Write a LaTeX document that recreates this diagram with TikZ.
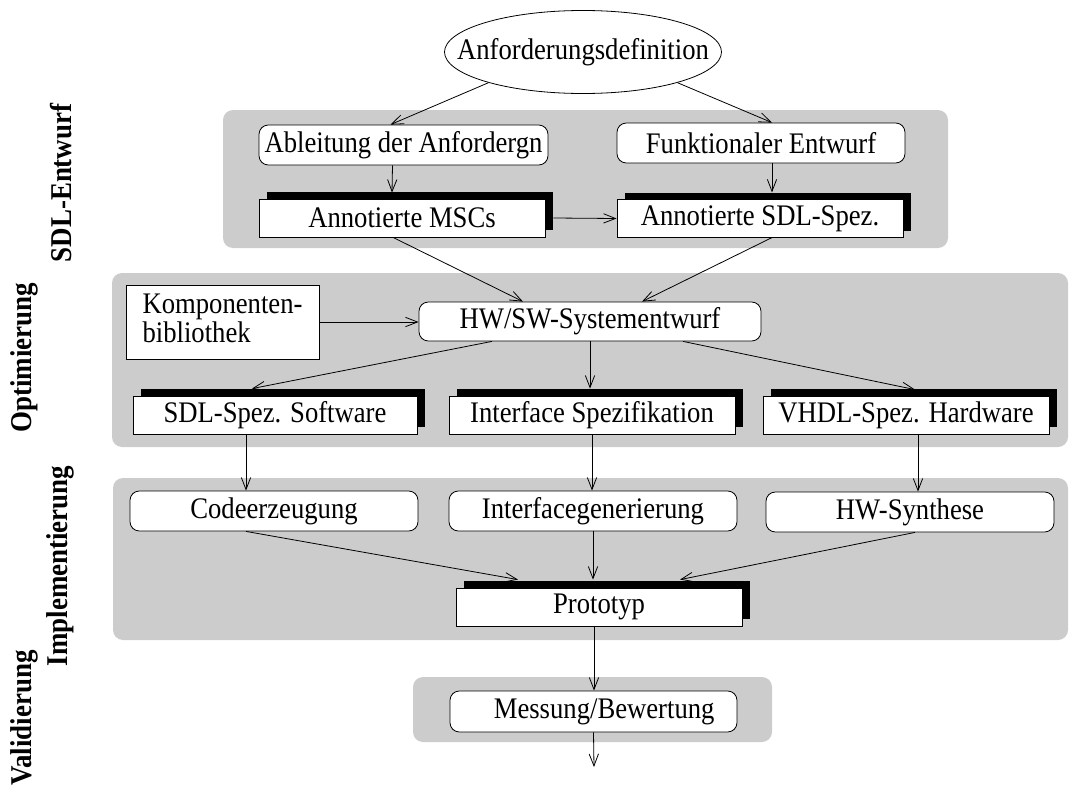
\documentclass[tikz,border=0pt]{standalone}
\usepackage{fontspec}
\setmainfont{Liberation Serif}
\usetikzlibrary{arrows.meta,calc,shapes.geometric,shadows}
\newcommand\st[1]{\scalebox{1}[1.12]{#1}}
\tikzset{
  every node/.style={font=\fontsize{20}{18.75}\selectfont, inner sep=0pt, line width=0.6pt},
  panel/.style={fill=black!20, draw=none, rounded corners=7.5pt},
  rbox/.style={draw, fill=white, rounded corners=7pt},
  sbox/.style={draw, fill=white, general shadow={fill=black, shadow xshift=6pt, shadow yshift=5pt}},
  side/.style={font=\fontsize{20.2}{24}\selectfont\bfseries, rotate=90},
  arr/.style={-{Straight Barb[length=9pt,width=7pt]}, line width=0.6pt},
}
\begin{document}
\begin{tikzpicture}[x=0.75pt,y=-0.75pt]
\useasboundingbox (0,0) rectangle (1076,785);

% panels
\fill[panel] (223,110) rectangle (948,248);
\fill[panel] (112,273) rectangle (1068,447);
\fill[panel] (113,478) rectangle (1068,640);
\fill[panel] (413,677) rectangle (772,742);

% side labels
\node[side] (lsdl) at (61,183) {\st{SDL-Entwurf}};
\node[side] (lopt) at (24,358) {\st{Optimierung}};
\node[side] (limp) at (60,566) {\st{Implementierung}};
\node[side] (lval) at (24,718) {\st{Validierung}};

% nodes
\node[ellipse, draw, fill=white, minimum width=207.75pt, minimum height=62.25pt] (ell) at (583,52) {\makebox[0pt]{\st{Anforderungsdefinition}}};
\node[rbox, minimum width=216.75pt, minimum height=30pt] (abl) at (403.5,145) {\st{Ableitung der Anfordergn}};
\node[rbox, minimum width=216pt, minimum height=30pt] (fkt) at (761,143) {\st{Funktionaler Entwurf}};
\node[sbox, minimum width=214.5pt, minimum height=28.5pt] (msc) at (402,218) {\st{Annotierte MSCs}};
\node[sbox, minimum width=214.5pt, minimum height=28pt] (sdl) at (760,218.5) {\st{Annotierte SDL-Spez.}};

\node[draw, fill=white, minimum width=144.75pt, minimum height=55.5pt, align=left] (komp) at (222.5,322)
  {\st{\begin{tabular}{@{}l@{}}Komponenten-\\bibliothek\end{tabular}}};
\node[rbox, minimum width=256.5pt, minimum height=29.25pt] (hwsw) at (590,321.5) {\st{HW/SW-Systementwurf}};
\node[sbox, minimum width=213pt, minimum height=28.5pt] (sws) at (275,415) {\st{SDL-Spez. Software}};
\node[sbox, minimum width=214.5pt, minimum height=28.5pt] (ifs) at (592,415) {\st{Interface Spezifikation}};
\node[sbox, minimum width=214.5pt, minimum height=28.5pt] (vhdl) at (906,415) {\st{VHDL-Spez. Hardware}};

\node[rbox, minimum width=216pt, minimum height=30pt] (code) at (274,511) {\st{Codeerzeugung}};
\node[rbox, minimum width=216pt, minimum height=30pt] (ifg) at (593,511) {\st{Interfacegenerierung}};
\node[rbox, minimum width=216pt, minimum height=30pt] (hws) at (910,512) {\st{HW-Synthese}};
\node[sbox, minimum width=214.5pt, minimum height=28.5pt] (proto) at (599,607) {\st{Prototyp}};

\node[rbox, minimum width=215.25pt, minimum height=30.75pt] (mess) at (593.5,711.5) {\hspace*{16pt}\st{Messung/Bewertung}};
\coordinate (out) at (594,767);

% connectors
\draw[arr] (ell.198) -- ($(abl.north)+(-13,0)$);
\draw[arr] (ell.342) -- ($(fkt.north)+(11,0)$);
\draw[arr] ($(abl.south)+(-11,0)$) -- ($(msc.north)+(-10,-6)$);
\draw[arr] ($(fkt.south)+(11,0)$) -- ($(sdl.north)+(12,-7)$);
\draw[arr] ($(msc.east)+(8,0)$) -- (sdl.west);
\draw[arr] ($(msc.south)+(-9,0)$) -- ($(hwsw.north)+(-67,0)$);
\draw[arr] ($(sdl.south)+(12,0)$) -- ($(hwsw.north)+(52,0)$);
\draw[arr] (komp.east) -- (komp.east -| hwsw.west);
\draw[arr] ($(hwsw.south)+(-98,0)$) -- ($(sws.north)+(-23,-7)$);
\draw[arr] (hwsw.south) -- ($(ifs.north)+(-2,-7)$);
\draw[arr] ($(hwsw.south)+(93,0)$) -- ($(vhdl.north)+(9,-6)$);
\draw[arr] ($(sws.south)+(-29,0)$) -- ($(code.north)+(-28,0)$);
\draw[arr] (ifs.south) -- (ifs.south |- ifg.north);
\draw[arr] ($(vhdl.south)+(12,0)$) -- ($(hws.north)+(8,0)$);
\draw[arr] ($(code.south)+(-28,0)$) -- ($(proto.north)+(-81,-8)$);
\draw[arr] (ifg.south) -- ($(proto.north)+(-6,-8)$);
\draw[arr] ($(hws.south)+(5,0)$) -- ($(proto.north)+(81,-8)$);
\draw[arr] ($(proto.south)+(-5,0)$) -- ($(mess.north)+(0.5,0)$);
\draw[arr] (mess.south) -- (out);
\end{tikzpicture}
\end{document}
